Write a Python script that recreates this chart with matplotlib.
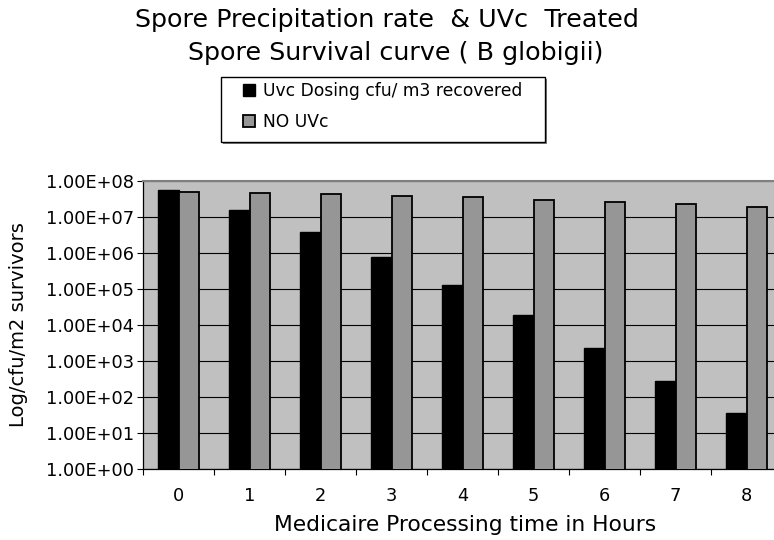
import matplotlib
matplotlib.use("Agg")
import matplotlib.pyplot as plt
from matplotlib.patches import Rectangle
from matplotlib.ticker import FixedLocator, FuncFormatter, NullLocator

hours = [0, 1, 2, 3, 4, 5, 6, 7, 8]
uvc_dosing = [5.6e7, 1.55e7, 3.7e6, 7.6e5, 1.26e5, 1.9e4, 2.3e3, 2.8e2, 35]
no_uvc = [4.9e7, 4.6e7, 4.2e7, 3.8e7, 3.5e7, 3.0e7, 2.6e7, 2.2e7, 1.9e7]
series_labels = ["Uvc Dosing cfu/ m3 recovered", "NO UVc"]
title_lines = ["Spore Precipitation rate  & UVc  Treated", "Spore Survival curve ( B globigii)"]
x_title = "Medicaire Processing time in Hours"
y_title = "Log/cfu/m2 survivors"
y_ticks = [1e0, 1e1, 1e2, 1e3, 1e4, 1e5, 1e6, 1e7, 1e8]

plt.rcParams["font.family"] = ["DejaVu Sans"]

W, H = 774, 540
fig = plt.figure(figsize=(W / 100, H / 100), dpi=100)
fig.patch.set_facecolor("white")

def fx(px):
    return px / W

def fy(py):
    return 1 - py / H

ax_left, ax_right, ax_top, ax_bottom = 143, 782, 180.7, 468.7
ax = fig.add_axes([fx(ax_left), fy(ax_bottom), (ax_right - ax_left) / W, (ax_bottom - ax_top) / H])
ax.set_facecolor("#C0C0C0")

bw = 0.286
xs = list(range(len(hours)))
ax.bar([x - bw / 2 for x in xs], uvc_dosing, width=bw, color="black", edgecolor="black",
       linewidth=1.0, zorder=3)
ax.bar([x + bw / 2 for x in xs], no_uvc, width=bw, color="#969696", edgecolor="black",
       linewidth=1.3, zorder=3)

ax.set_yscale("log")
ax.set_ylim(1, 1e8)
ax.set_xlim(-0.5, len(hours) - 0.5)

ax.yaxis.set_major_locator(FixedLocator(y_ticks))
ax.yaxis.set_minor_locator(NullLocator())
ax.yaxis.set_major_formatter(FuncFormatter(lambda v, p: f"{v:.2E}"))
ax.tick_params(axis="y", which="major", direction="out", length=4.5, width=0.8,
               color="black", labelsize=12.8, pad=2)

ax.xaxis.set_major_locator(FixedLocator([x - 0.5 for x in range(len(hours) + 1)]))
ax.xaxis.set_major_formatter(FuncFormatter(lambda v, p: ""))
ax.xaxis.set_minor_locator(FixedLocator(xs))
ax.xaxis.set_minor_formatter(FuncFormatter(lambda v, p: str(hours[int(round(v))])))
ax.tick_params(axis="x", which="major", direction="out", length=4, width=0.8, color="black")
ax.tick_params(axis="x", which="minor", length=0, labelsize=12.8, pad=13)

ax.yaxis.grid(True, which="major", color="black", linewidth=0.8, zorder=1)
ax.set_axisbelow(True)

ax.spines["left"].set_color("black")
ax.spines["left"].set_linewidth(0.9)
ax.spines["bottom"].set_color("black")
ax.spines["bottom"].set_linewidth(0.9)
ax.spines["top"].set_color("#808080")
ax.spines["top"].set_linewidth(1.5)
ax.spines["right"].set_color("#808080")

fig.text(fx(387), fy(20), title_lines[0], ha="center", va="center", fontsize=18.3)
fig.text(fx(396), fy(53), title_lines[1], ha="center", va="center", fontsize=18.3)

fig.text(fx(465), fy(525), x_title, ha="center", va="center", fontsize=15.7)
fig.text(fx(19), fy(325), y_title, ha="center", va="center", rotation=90, fontsize=14)

# legend box with shadow
shadow = Rectangle((fx(223), fy(144)), (545 - 221) / W, (142 - 77) / H, transform=fig.transFigure,
                   facecolor="#808080", edgecolor="none", zorder=1)
box = Rectangle((fx(221), fy(142)), (545 - 221) / W, (142 - 77) / H, transform=fig.transFigure,
                facecolor="white", edgecolor="black", linewidth=1.0, zorder=2)
fig.patches.extend([shadow, box])

handles = [Rectangle((0, 0), 1, 1, facecolor="black", edgecolor="black", linewidth=1.0),
           Rectangle((0, 0), 1, 1, facecolor="#969696", edgecolor="black", linewidth=1.3)]
leg = fig.legend(handles, series_labels, loc="upper left", bbox_to_anchor=(fx(243), fy(82)),
                 frameon=False, borderpad=0, borderaxespad=0, fontsize=12.3,
                 handlelength=0.72, handleheight=0.72, handletextpad=0.45, labelspacing=0.78)
leg.set_zorder(3)

fig.savefig("out.png", dpi=100)
